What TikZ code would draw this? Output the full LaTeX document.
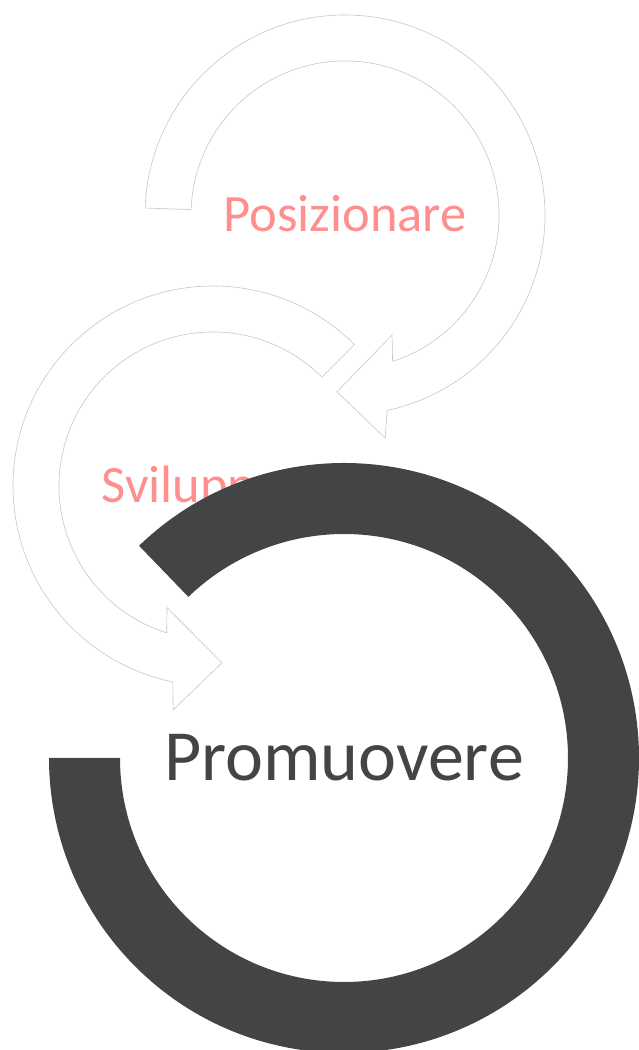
\documentclass[tikz,border=0pt]{standalone}
\usepackage{fontspec}
\setmainfont{Carlito}
\definecolor{anello}{RGB}{68,68,68}
\definecolor{salmone}{RGB}{255,143,143}
\tikzset{
  freccia/.style={fill=white,draw=black!22,line width=0.6pt,line join=miter},
  etichetta/.style={text=salmone,font=\fontsize{52.5}{60}\selectfont,
    text height=33pt,text depth=0pt,inner sep=0pt},
  centrale/.style={text=anello,font=\fontsize{72}{80}\selectfont,
    text height=46pt,text depth=0pt,inner sep=0pt}
}
\begin{document}
\begin{tikzpicture}[x=1pt,y=1pt]
\useasboundingbox (0,0) rectangle (639,1050);
\def\rout{200}
\def\rin{154}
    %Centri
    \coordinate (cpos) at (345,835);
    \coordinate (csvi) at (213,564);
    \coordinate (cpro) at (344,292);

    %Freccia Posizionare
    \draw[freccia] ([shift={(178:\rout)}]cpos) arc[start angle=178,end angle=-77.8,radius=\rout]
        -- ([shift={(-79.8:226.6)}]cpos) -- ([shift={(-92.6:177)}]cpos)
        -- ([shift={(-68.6:129)}]cpos) -- ([shift={(-72:\rin)}]cpos)
        arc[start angle=-72,end angle=178,radius=\rin] -- cycle;

    %Freccia Sviluppare
    \draw[freccia] ([shift={(45:\rout)}]csvi) arc[start angle=45,end angle=258.4,radius=\rout]
        -- ([shift={(259.9:227.5)}]csvi) -- ([shift={(272.9:177)}]csvi)
        -- ([shift={(249.3:130)}]csvi) -- ([shift={(252.5:\rin)}]csvi)
        arc[start angle=252.5,end angle=45,radius=\rin] -- cycle;

    \node[etichetta] (pos) at (cpos) {Posizionare};
    \node[etichetta] (svi) at (csvi) {Sviluppare};

    %Anello Promuovere
    \fill[anello] ([shift={(134:295)}]cpro) arc[start angle=134,end angle=-180,radius=295]
        -- ([shift={(180:224)}]cpro) arc[start angle=-180,end angle=134,radius=224] -- cycle;
    \node[centrale] (pro) at (cpro) {Promuovere};
\end{tikzpicture}
\end{document}
